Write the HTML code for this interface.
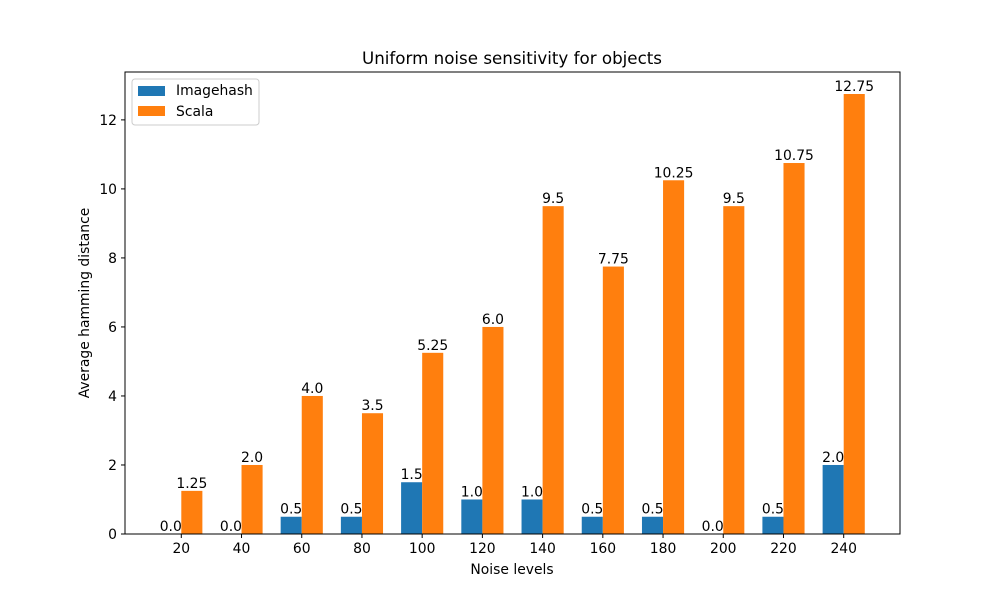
<!DOCTYPE html>
<html><head><meta charset="utf-8"><style>
body{margin:0;background:#fff;}
svg text{font-family:"DejaVu Sans","Liberation Sans",sans-serif;}
</style></head><body>
<svg id="chart" width="1000" height="600">
<rect width="1000" height="600" fill="#fff"/>
<text x="512" y="64" font-size="16.7" text-anchor="middle">Uniform noise sensitivity for objects</text>
<g id="bars"></g>
<rect x="125" y="72" width="775" height="462" fill="none" stroke="#000" stroke-width="1"/>
<g id="axes"></g>
<text x="512" y="574" font-size="13.9" text-anchor="middle">Noise levels</text>
<text transform="translate(89,303) rotate(-90)" font-size="13.9" text-anchor="middle">Average hamming distance</text>
<g>
<rect x="132" y="79" width="127" height="46" fill="#fff" stroke="#ccc" rx="3"/>
<rect x="138" y="86" width="27" height="10" fill="#1f77b4"/>
<text x="176" y="95" font-size="13.9">Imagehash</text>
<rect x="138" y="106" width="27" height="10" fill="#ff7f0e"/>
<text x="176" y="116" font-size="13.9">Scala</text>
</g>
</svg>
<script>
const categories=[20,40,60,80,100,120,140,160,180,200,220,240];
const imagehash=[0,0,0.5,0.5,1.5,1,1,0.5,0.5,0,0.5,2];
const scala=[1.25,2,4,3.5,5.25,6,9.5,7.75,10.25,9.5,10.75,12.75];
const yTicks=[0,2,4,6,8,10,12];
const NS='http://www.w3.org/2000/svg';
const L=125,R=900,T=72,B=534,W=0.35;
const n=categories.length;
const xmin=-W-0.05*(n-1+2*W), xmax=n-1+W+0.05*(n-1+2*W);
const maxV=Math.max(...scala,...imagehash)*1.05;
const xs=v=>L+(v-xmin)/(xmax-xmin)*(R-L);
const ys=v=>B-v/maxV*(B-T);
const bars=document.getElementById('bars'),axes=document.getElementById('axes');
function mk(tag,attrs,p){const e=document.createElementNS(NS,tag);for(const k in attrs)e.setAttribute(k,attrs[k]);p.appendChild(e);return e;}
function fmt(v){return Number.isInteger(v)?v.toFixed(1):String(v);}
[[imagehash,-W/2,'#1f77b4','imagehash'],[scala,W/2,'#ff7f0e','scala']].forEach(([arr,off,col,nm])=>{
 arr.forEach((v,i)=>{
  const x0=xs(i+off-W/2),x1=xs(i+off+W/2);
  const r=mk('rect',{x:x0,y:ys(v),width:x1-x0,height:B-ys(v),fill:col},bars);
  
  
  const t=mk('text',{x:(x0+x1)/2,y:ys(v)-3,'font-size':13.9,'text-anchor':'middle'},bars);
  t.textContent=fmt(v);
  
  
 });
});
categories.forEach((c,i)=>{
 const x=xs(i);
 mk('line',{x1:x,x2:x,y1:B,y2:B+4,stroke:'#000'},axes);
 const t=mk('text',{x:x,y:B+19,'font-size':13.9,'text-anchor':'middle'},axes);
 t.textContent=c;
 
 
});
yTicks.forEach(v=>{
 const y=ys(v);
 mk('line',{x1:L-4,x2:L,y1:y,y2:y,stroke:'#000'},axes);
 const t=mk('text',{x:L-8,y:y+5,'font-size':13.9,'text-anchor':'end'},axes);
 t.textContent=v;
 
 
});
</script>
</body></html>
